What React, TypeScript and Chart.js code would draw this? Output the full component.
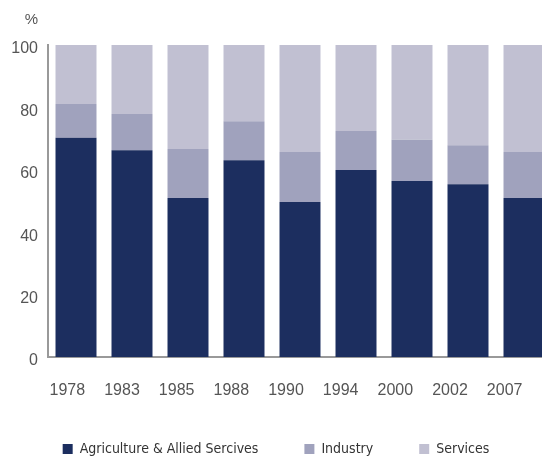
import React, { useEffect, useRef } from "react";
import { Chart, registerables } from "chart.js";

Chart.register(...registerables);

const years = ["1978", "1983", "1985", "1988", "1990", "1994", "2000", "2002", "2007"];
const agriculture = [70.3, 66.3, 51.0, 63.1, 49.7, 59.9, 56.4, 55.4, 51.0];
const industry = [10.8, 11.6, 15.7, 12.5, 16.0, 12.5, 13.2, 12.5, 14.7];
const services = [18.9, 22.1, 33.3, 24.4, 34.3, 27.6, 30.4, 32.1, 34.3];
const yTicks = [0, 20, 40, 60, 80, 100];
const seriesNames = ["Agriculture & Allied Sercives", "Industry", "Services"];
const colors = ["#1c2e5f", "#a0a2bd", "#c1c0d2"];

const percentPlugin = {
  id: "percentLabel",
  afterDraw(chart: any) {
    const { ctx, chartArea } = chart;
    const y = chart.scales.y;
    ctx.save();
    ctx.font = "15px 'Liberation Sans', Arial, sans-serif";
    ctx.fillStyle = "#555555";
    ctx.textAlign = "right";
    ctx.textBaseline = "middle";
    ctx.fillText("%", y.right - 10, chartArea.top - 25);
    ctx.restore();
  },
};

const labelAxisPlugin = {
  id: "labelAxisShift",
  afterLayout(chart: any) {
    const s = chart.scales.x2;
    if (!s) return;
    const area = chart.chartArea;
    s.left = area.left - 8;
    s.right = area.right - 20;
    s.width = s.right - s.left;
    s.bottom = s.top + 50;
    s.height = 50;
    s.configure();
  },
};

export default function App() {
  const ref = useRef<HTMLCanvasElement | null>(null);
  useEffect(() => {
    if (!ref.current) return;
    const chart = new Chart(ref.current, {
      type: "bar",
      data: {
        labels: years,
        datasets: [
          { label: seriesNames[0], data: agriculture, backgroundColor: colors[0] },
          { label: seriesNames[1], data: industry, backgroundColor: colors[1] },
          { label: seriesNames[2], data: services, backgroundColor: colors[2] },
        ],
      },
      options: {
        animation: false,
        responsive: true,
        maintainAspectRatio: false,
        layout: { padding: { left: 0, right: 8, top: 45, bottom: -9 } },
        datasets: { bar: { barPercentage: 0.732, categoryPercentage: 1.0 } },
        scales: {
          x: {
            stacked: true,
            offset: true,
            grid: { display: false, drawTicks: false },
            border: { display: true, color: "#999999", width: 2 },
            ticks: { display: false },
            afterFit: (s: any) => {
              s.height = 0;
              s.paddingLeft = 0;
              s.paddingRight = 0;
            },
          },
          x2: {
            type: "category",
            labels: years,
            position: "bottom",
            offset: true,
            grid: { display: false, drawTicks: false },
            border: { display: false },
            ticks: {
              padding: 24,
              color: "#555555",
              font: { family: "'Liberation Sans', Arial, sans-serif", size: 16 },
              maxRotation: 0,
              autoSkip: false,
            },
            afterFit: (s: any) => {
              s.height = 39;
              s.paddingLeft = 0;
              s.paddingRight = 0;
            },
          },
          y: {
            stacked: true,
            min: 0,
            max: 100,
            afterBuildTicks: (s: any) => {
              s.ticks = yTicks.map((v) => ({ value: v }));
            },
            grid: { display: false, drawTicks: false },
            border: { display: true, color: "#999999", width: 2 },
            ticks: {
              padding: 10,
              labelOffset: 4,
              color: "#555555",
              font: { family: "'Liberation Sans', Arial, sans-serif", size: 16 },
            },
            afterFit: (s: any) => {
              s.width = 48;
              s.paddingTop = 0;
              s.paddingBottom = 0;
            },
          },
        },
        plugins: {
          legend: {
            position: "bottom",
            labels: {
              boxWidth: 10,
              boxHeight: 10,
              padding: 46,
              color: "#333333",
              font: { family: "'Liberation Sans Narrow', 'DejaVu Sans Condensed', sans-serif", size: 14 },
            },
          },
          tooltip: { enabled: false },
        },
      },
      plugins: [percentPlugin, labelAxisPlugin],
    } as any);
    return () => chart.destroy();
  }, []);
  return (
    <div style={{ position: "fixed", left: 0, top: 0, width: 542, height: 457, overflow: "hidden", background: "#fff" }}>
      <div style={{ width: 560, height: 457, position: "relative" }}>
        <canvas ref={ref} />
      </div>
    </div>
  );
}
